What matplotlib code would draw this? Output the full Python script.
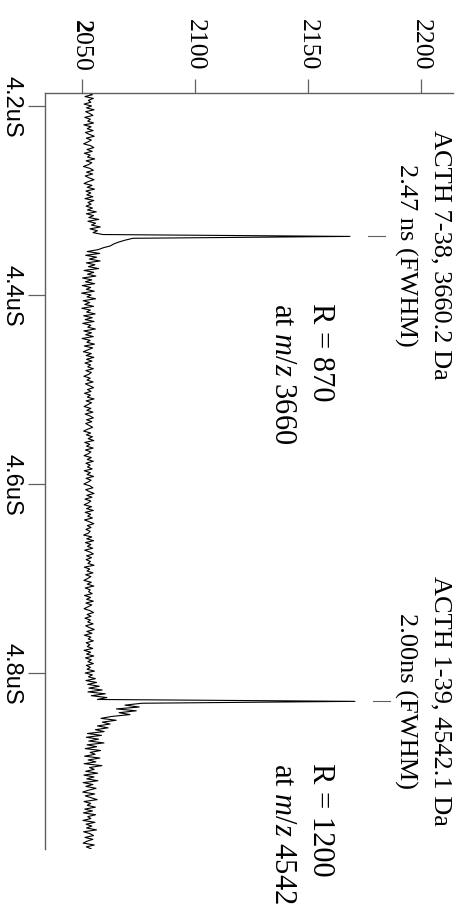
import numpy as np
import matplotlib
matplotlib.use('Agg')
import matplotlib.pyplot as plt

# time-of-flight trace, sampled every 2 ns starting at 4.186 uS
t_start = 4.186
t_step = 0.002
counts = [
    2052.1, 2054.6, 2051.3, 2055.0, 2052.8, 2053.9, 2050.9, 2054.2, 2052.0, 2055.3, 2051.6, 2053.4, 2054.8, 2051.2, 2053.7, 2052.5, 2055.1, 2050.8, 2054.0, 2052.3,
    2054.9, 2051.5, 2053.2, 2055.4, 2051.9, 2054.1, 2052.6, 2050.7, 2053.8, 2055.2, 2052.2, 2054.5, 2051.0, 2053.6, 2052.4, 2055.6, 2051.8, 2054.3, 2052.9, 2050.6,
    2053.5, 2055.0, 2052.0, 2054.7, 2051.4, 2053.1, 2055.3, 2052.7, 2050.9, 2054.4, 2052.3, 2055.5, 2051.7, 2053.9, 2052.1, 2054.8, 2051.3, 2055.2, 2052.6, 2054.0,
    2051.8, 2054.6, 2052.4, 2056.3, 2051.9, 2055.1, 2053.0, 2057.4, 2052.6, 2056.0, 2054.2, 2058.1, 2053.5, 2056.8, 2054.9, 2059.2, 2168.6, 2072.5, 2069.0, 2066.2,
    2064.0, 2062.6, 2059.4, 2057.1, 2052.3, 2057.8, 2051.6, 2056.4, 2053.2, 2058.0, 2051.9, 2055.7, 2052.8, 2057.3, 2050.9, 2055.2, 2052.4, 2056.1, 2050.2, 2054.3,
    2051.5, 2055.6, 2050.1, 2053.8, 2051.9, 2055.4, 2049.8, 2054.0, 2052.2, 2056.0, 2050.5, 2053.4, 2051.2, 2055.1, 2049.9, 2053.7, 2052.0, 2055.8, 2050.7, 2054.5,
    2051.4, 2055.3, 2050.3, 2053.9, 2052.5, 2055.9, 2050.8, 2054.2, 2051.6, 2055.0, 2050.0, 2053.6, 2052.1, 2055.5, 2051.0, 2054.7, 2052.7, 2050.6, 2054.1, 2051.8,
    2055.2, 2052.0, 2054.4, 2051.3, 2053.8, 2052.5, 2055.0, 2051.7, 2054.1, 2052.9, 2050.8, 2053.6, 2052.2, 2054.9, 2051.5, 2053.3, 2055.1, 2052.4, 2054.0, 2051.1,
    2053.7, 2052.3, 2055.3, 2051.8, 2054.2, 2052.6, 2050.9, 2053.9, 2052.1, 2054.8, 2051.4, 2053.5, 2055.0, 2052.0, 2054.3, 2051.6, 2053.1, 2054.7, 2052.5, 2050.7,
    2053.8, 2051.9, 2054.6, 2052.7, 2055.2, 2051.2, 2053.4, 2052.0, 2054.9, 2051.5, 2053.9, 2052.8, 2050.9, 2054.1, 2052.3, 2055.0, 2051.7, 2053.6, 2052.4, 2054.5,
    2051.0, 2053.7, 2052.2, 2055.1, 2051.8, 2054.0, 2052.6, 2050.8, 2053.5, 2054.8, 2051.6, 2053.2, 2055.3, 2052.1, 2054.4, 2051.3, 2053.9, 2052.7, 2050.9, 2054.2,
    2052.0, 2055.0, 2051.4, 2053.8, 2052.5, 2054.6, 2051.1, 2053.3, 2055.2, 2052.3, 2054.0, 2051.7, 2053.6, 2052.8, 2050.7, 2054.3, 2052.1, 2055.1, 2051.5, 2053.9,
    2052.4, 2054.7, 2051.2, 2053.5, 2055.0, 2052.0, 2054.2, 2051.8, 2053.7, 2052.6, 2055.3, 2051.0, 2053.4, 2052.2, 2054.8, 2051.6, 2053.9, 2052.5, 2050.8, 2054.1,
    2052.3, 2055.2, 2051.4, 2053.6, 2052.9, 2054.5, 2051.1, 2053.8, 2052.0, 2055.0, 2051.7, 2054.3, 2052.6, 2050.9, 2053.5, 2055.1, 2052.2, 2054.0, 2051.3, 2053.7,
    2052.5, 2054.9, 2051.6, 2053.3, 2055.4, 2052.1, 2054.4, 2051.0, 2053.9, 2052.7, 2055.0, 2051.8, 2053.5, 2052.3, 2054.7, 2050.9, 2053.8, 2052.0, 2055.2, 2051.5,
    2054.1, 2052.6, 2055.0, 2051.9, 2053.7, 2052.2, 2055.5, 2051.4, 2054.6, 2052.8, 2055.9, 2051.7, 2056.4, 2052.5, 2057.6, 2053.0, 2058.9, 2052.6, 2060.3, 2054.1,
    2061.0, 2056.8, 2170.8, 2076.5, 2069.0, 2075.3, 2065.2, 2074.0, 2066.4, 2071.2, 2063.0, 2058.4, 2065.1, 2059.0, 2062.4, 2056.8, 2061.5, 2055.9, 2059.8, 2052.4,
    2058.6, 2051.9, 2057.3, 2053.0, 2059.7, 2052.2, 2056.5, 2051.4, 2058.2, 2053.6, 2055.8, 2051.1, 2057.9, 2052.7, 2056.1, 2050.9, 2058.8, 2053.3, 2055.4, 2051.6,
    2056.9, 2050.8, 2055.3, 2052.1, 2057.0, 2050.5, 2054.8, 2051.7, 2056.2, 2052.9, 2050.3, 2055.6, 2051.4, 2054.1, 2056.7, 2050.9, 2053.8, 2052.3, 2055.9, 2051.2,
    2054.6, 2050.6, 2056.0, 2052.5, 2053.9, 2050.4, 2055.7, 2051.8, 2054.3, 2052.0, 2056.4, 2050.7, 2053.5, 2055.1, 2051.3, 2054.8, 2052.2, 2050.5, 2055.4, 2051.9,
    2054.0,
]

time_ticks = [4.2, 4.4, 4.6, 4.8]
time_labels = ['4.2uS', '4.4uS', '4.6uS', '4.8uS']
count_ticks = [2050, 2100, 2150, 2200]
# the first digit of the lowest label is bold in the original
count_labels = [r'$\mathbf{2}$050', '2100', '2150', '2200']

ion_labels = ['ACTH 7-38, 3660.2 Da', 'ACTH 1-39, 4542.1 Da']
fwhm_labels = ['2.47 ns (FWHM)', '2.00ns (FWHM)']
res_labels = ['R = 870', 'R = 1200']
mz_labels = ['at $m/z$ 3660', 'at $m/z$ 4542']
label_times = [4.3566, 4.8290]
res_times = [4.4074, 4.8940]

plt.rcParams['font.family'] = 'Liberation Serif'
plt.rcParams['mathtext.fontset'] = 'custom'
plt.rcParams['mathtext.rm'] = 'Liberation Serif'
plt.rcParams['mathtext.it'] = 'Liberation Serif:italic'
plt.rcParams['mathtext.bf'] = 'Liberation Serif:bold'

counts = np.array(counts)
time_us = t_start + t_step * np.arange(len(counts))

fig = plt.figure(figsize=(4.64, 9.12), dpi=100)
ax = fig.add_axes([45 / 464, 62 / 912, 408 / 464, 756 / 912])

ax.plot(counts, time_us, color='black', lw=0.8)

ax.set_xlim(2033.6, 2214.2)
ax.set_ylim(4.98624, 4.18624)

axis_grey = '#606060'
for side in ['right', 'bottom']:
    ax.spines[side].set_visible(False)
for side in ['top', 'left']:
    ax.spines[side].set_color(axis_grey)
    ax.spines[side].set_linewidth(1.0)

ax.xaxis.tick_top()
ax.set_xticks(count_ticks)
ax.set_xticklabels(count_labels, family='Liberation Serif')
ax.tick_params(axis='x', length=10, width=0.9, color=axis_grey, pad=7,
               labelsize=18.5, labelrotation=270)

ax.set_yticks(time_ticks)
ax.set_yticklabels(time_labels, family='Liberation Sans')
ax.tick_params(axis='y', length=12, width=0.9, color=axis_grey, pad=4,
               labelsize=17, labelrotation=270)
for lab in ax.get_yticklabels():
    lab.set_verticalalignment('center')

# peaks: locate the maximum in each half of the trace
half = len(counts) // 2
peak_idx = [int(np.argmax(counts[:half])), half + int(np.argmax(counts[half:]))]

for k, pi in enumerate(peak_idx):
    pt = time_us[pi]
    pv = counts[pi]
    ax.plot([pv + 8, pv + 15.5], [pt, pt], color=axis_grey, lw=0.8)
    ax.text(2208.8, label_times[k], ion_labels[k], rotation=270,
            ha='center', va='center', fontsize=19, family='Liberation Serif')
    ax.text(2193.0, label_times[k], fwhm_labels[k], rotation=270,
            ha='center', va='center', fontsize=19, family='Liberation Serif')
    ax.text(2155.5, res_times[k], res_labels[k], rotation=270,
            rotation_mode='anchor', ha='left', va='center', fontsize=22,
            family='Liberation Serif')
    ax.text(2138.8, res_times[k], mz_labels[k], rotation=270,
            rotation_mode='anchor', ha='left', va='center', fontsize=22,
            family='Liberation Serif')

fig.savefig('out.png', dpi=100)
